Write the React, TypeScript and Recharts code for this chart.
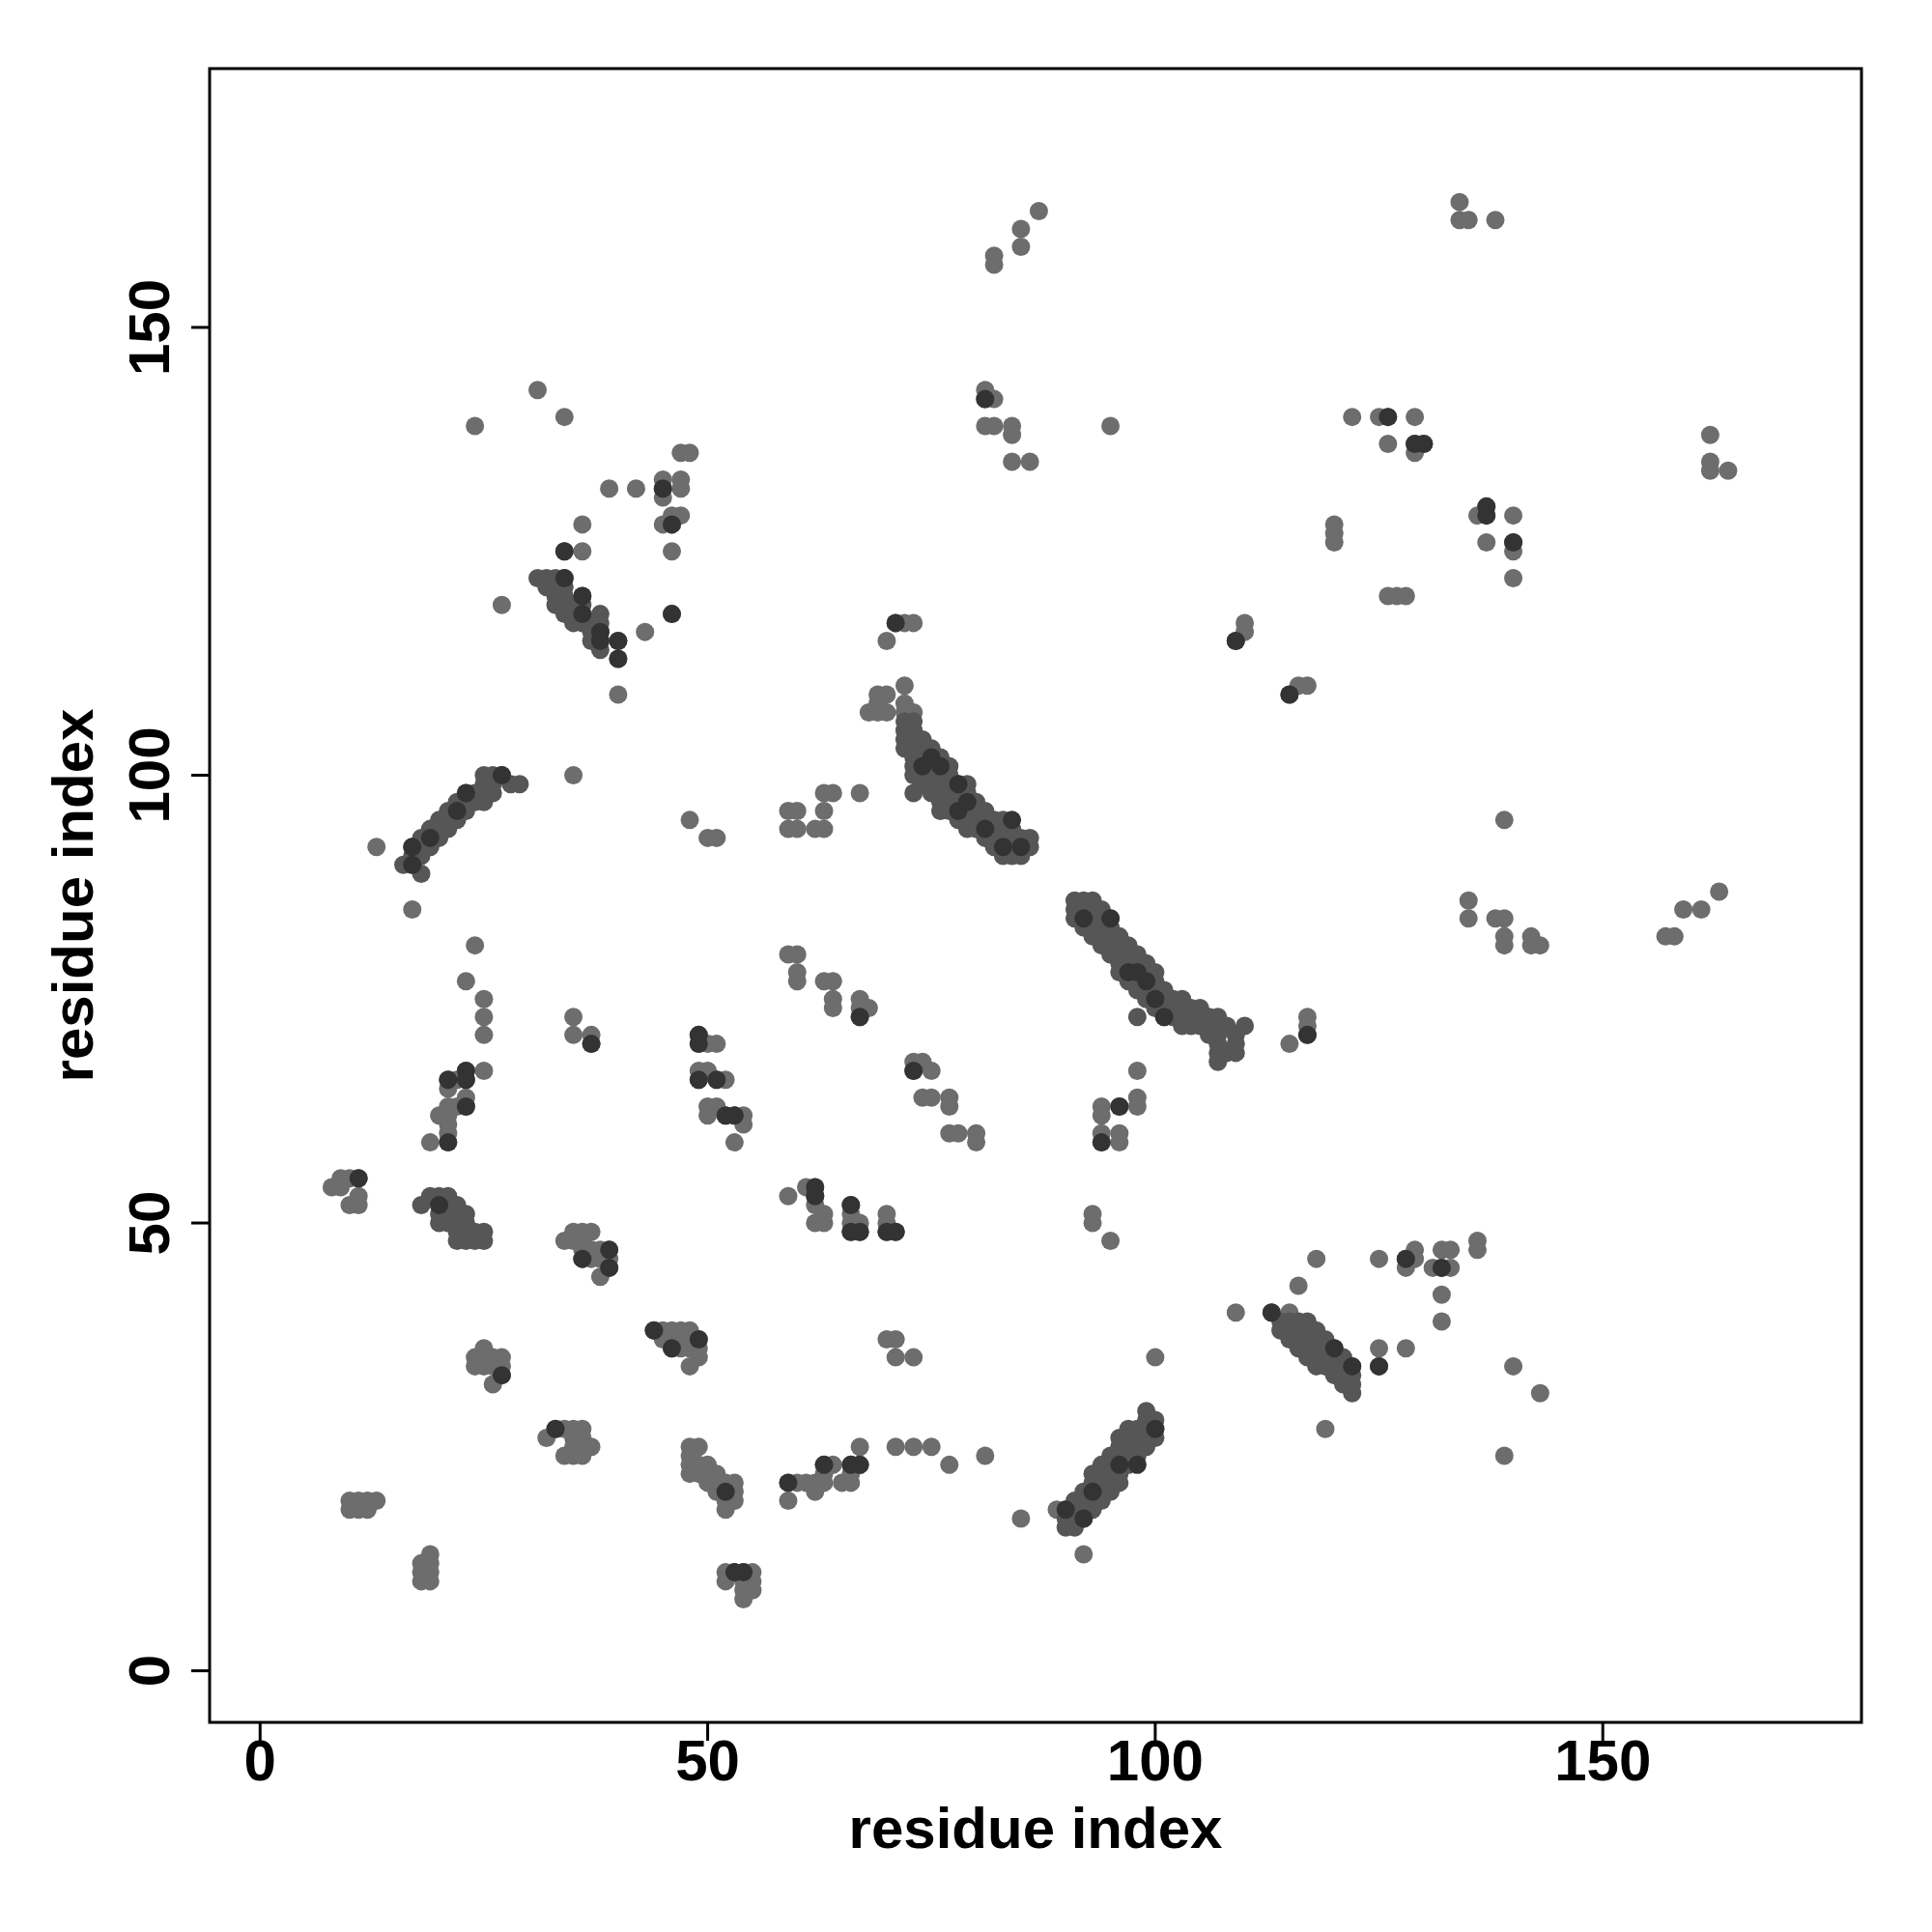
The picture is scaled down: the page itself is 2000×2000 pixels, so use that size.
import React from 'react';
import { ScatterChart, Scatter, XAxis, YAxis, ReferenceArea } from 'recharts';

type Pair = [number, number];
type Row = [number, number[]]; // [y, list of x]

const AXIS_TICKS = [0, 50, 100, 150];
const X_DOMAIN: [number, number] = [-5.64, 178.9];
const Y_DOMAIN: [number, number] = [-5.76, 178.9];
const AXIS_TITLE = 'residue index';

// scattered contacts, upper left
const upperLeft: Pair[] = [
  [31, 143], [34, 140], [24, 139], [47, 136], [48, 136], [39, 132], [42, 132], [45, 133], [47, 133],
  [45, 132], [47, 132], [45, 131], [46, 129], [47, 129], [45, 128], [46, 128], [36, 128], [34, 125],
  [36, 125], [46, 125], [46, 118], [43, 116], [27, 119], [40, 115], [40, 113], [40, 109],
];

const strandA: Row[] = [
  [122, [31, 32, 33, 34]], [121, [32, 33, 34]], [120, [33, 34, 36]], [119, [33, 34, 35, 36]],
  [118, [34, 35, 36, 38]], [117, [35, 36, 37, 38]], [116, [37, 38]], [115, [37, 38]], [114, [38]],
];

const helixB: Row[] = [
  [100, [25, 26, 27]], [99, [25, 26, 28, 29]], [98, [23, 24, 25, 26]], [97, [22, 23, 24, 25]],
  [96, [21, 22, 23]], [95, [20, 21, 22]], [94, [19, 20, 21]], [93, [18, 19, 20]], [92, [17, 18, 19]],
  [91, [17, 18]], [90, [16, 17]], [89, [18]],
];

const leftLone: Pair[] = [[13, 92], [17, 85], [35, 100], [48, 95], [50, 93], [51, 93]];

const centerUpper: Pair[] = [
  [71, 117], [72, 117], [73, 117], [70, 115], [72, 110], [69, 109], [70, 109], [68, 107], [69, 107],
  [70, 107], [72, 107], [73, 107], [69, 108], [72, 108], [63, 98], [64, 98], [67, 98], [59, 96],
  [60, 96], [63, 96], [59, 94], [60, 94], [62, 94], [63, 94], [110, 117], [110, 116], [109, 115],
  [115, 109], [116, 110], [117, 110],
];

const bandC: Row[] = [
  [106, [72, 73]], [105, [72, 73]], [104, [72, 73, 74]], [103, [72, 73, 74, 75]],
  [102, [73, 74, 75, 76]], [101, [73, 74, 75, 76, 77]], [100, [73, 74, 75, 76, 77]],
  [99, [74, 75, 76, 77, 78, 79]], [98, [73, 75, 76, 77, 78, 79]], [97, [76, 77, 78, 79, 80]],
  [96, [76, 77, 78, 79, 80, 81]], [95, [78, 79, 80, 81, 82, 83]], [94, [79, 80, 81, 82, 83, 84]],
  [93, [81, 82, 83, 84, 85, 86]], [92, [82, 83, 84, 85, 86]], [91, [83, 84, 85]],
];

const bandD: Row[] = [
  [86, [91, 92, 93]], [85, [91, 92, 93, 94]], [84, [91, 92, 93, 94, 95]], [83, [92, 93, 94, 95]],
  [82, [93, 94, 95, 96]], [81, [94, 95, 96, 97]], [80, [95, 96, 97, 98]], [79, [96, 97, 98, 99]],
  [78, [96, 97, 98, 99, 100]], [77, [97, 98, 99, 100]], [76, [98, 99, 100, 101]],
  [75, [99, 100, 101, 102, 103]], [74, [100, 101, 102, 103, 104, 105]],
  [73, [98, 101, 102, 103, 104, 105, 106, 107]], [72, [103, 104, 105, 106, 108, 110]],
  [71, [106, 107, 109]], [70, [107, 109]], [69, [107, 108, 109]], [68, [107]],
];

const upperRight: Pair[] = [
  [87, 163], [85, 161], [85, 159], [82, 158], [82, 157], [81, 143], [81, 142], [82, 142], [81, 139],
  [82, 139], [84, 139], [84, 138], [84, 135], [86, 135], [95, 139], [134, 164], [134, 162], [135, 162],
  [138, 162], [122, 140], [125, 140], [126, 140], [129, 140], [126, 137], [129, 137], [130, 137],
  [129, 136], [162, 138], [162, 135], [162, 134], [164, 134], [136, 129], [137, 130], [137, 129],
  [140, 129], [120, 128], [120, 127], [120, 126], [137, 126], [140, 126], [140, 125], [140, 122],
  [126, 120], [127, 120], [128, 120],
];

const rightMiddle: Pair[] = [
  [139, 95], [135, 86], [135, 84], [138, 84], [139, 84], [139, 82], [142, 82], [139, 81], [142, 81],
  [143, 81], [163, 87], [159, 85], [161, 85], [157, 82], [158, 82],
];

const leftMiddle: Pair[] = [
  [24, 81], [23, 77], [25, 75], [25, 73], [25, 71], [35, 73], [35, 71], [37, 71], [37, 70], [49, 71],
  [49, 70], [50, 70], [51, 70], [49, 67], [50, 67], [49, 66], [51, 66], [52, 66], [50, 63], [51, 63],
  [52, 62], [53, 62], [54, 62], [54, 61], [50, 62], [53, 59], [23, 67], [25, 67], [21, 66], [22, 66],
  [23, 66], [21, 65], [23, 64], [21, 63], [22, 63], [23, 63], [20, 62], [21, 62], [21, 61], [21, 60],
  [21, 59], [19, 59],
];

const leftLower: Pair[] = [
  [8, 54], [9, 55], [10, 55], [11, 55], [9, 54], [11, 53], [10, 52], [11, 52],
  [34, 48], [35, 49], [36, 49], [37, 49], [35, 48], [36, 48], [36, 47], [37, 47], [36, 46], [37, 46],
  [38, 47], [39, 47], [38, 46], [39, 46], [39, 45], [38, 44],
];

const clusterE: Row[] = [
  [53, [19, 20, 21]], [52, [18, 20, 21, 22]], [51, [20, 22, 23]], [50, [20, 21, 22, 23]],
  [49, [22, 23, 24, 25]], [48, [22, 23, 24, 25]],
];

const centerMiddle: Pair[] = [
  [59, 80], [60, 80], [60, 78], [60, 77], [63, 77], [64, 77], [64, 75], [64, 74], [67, 75], [67, 74],
  [67, 73], [68, 74], [73, 68], [74, 68], [73, 67], [75, 67], [74, 64], [75, 64], [77, 64], [77, 63],
  [77, 60], [78, 60], [80, 60], [80, 59], [94, 63], [96, 63], [94, 62], [98, 67], [98, 64], [98, 63],
  [94, 60], [96, 60], [94, 59], [96, 59], [117, 73], [117, 72], [117, 71], [115, 70],
];

const centerLower: Pair[] = [
  [59, 53], [61, 54], [62, 54], [62, 53], [62, 52], [63, 51], [62, 50], [63, 50], [66, 52], [66, 51],
  [66, 50], [67, 50], [66, 49], [67, 49], [70, 51], [70, 50], [70, 49], [71, 49], [93, 51], [93, 50],
  [95, 48], [118, 46], [116, 43], [109, 40], [113, 40], [115, 40],
];

const rightLower: Pair[] = [
  [125, 46], [128, 46], [128, 45], [129, 47], [129, 46], [131, 45], [132, 45], [133, 45], [132, 47],
  [133, 47], [136, 48], [136, 47], [132, 42], [132, 39], [125, 36], [128, 36], [125, 34], [140, 34],
  [143, 31], [139, 24], [119, 27],
];

const bandF: Row[] = [
  [39, [114, 115, 116, 117]], [38, [114, 115, 116, 117, 118]], [37, [115, 116, 117, 118, 119]],
  [36, [116, 117, 118, 119, 120]], [35, [117, 118, 119, 120, 121]], [34, [118, 119, 120, 121, 122]],
  [33, [120, 121, 122]], [32, [121, 122]], [31, [122]],
];

const bottomLeft: Pair[] = [
  [25, 36], [24, 35], [25, 35], [26, 35], [27, 35], [24, 34], [25, 34], [26, 34], [27, 34], [27, 33],
  [26, 32], [44, 38], [45, 38], [46, 38], [47, 38], [48, 38], [45, 37], [46, 37], [47, 37], [48, 37],
  [49, 37], [46, 36], [47, 36], [48, 36], [49, 36], [49, 35], [48, 34],
  [33, 27], [34, 27], [35, 27], [36, 27], [32, 26], [35, 26], [36, 26], [37, 25], [35, 25], [34, 24],
  [35, 24], [36, 24], [10, 19], [11, 19], [12, 19], [13, 19], [10, 18], [11, 18], [12, 18],
  [19, 13], [18, 12], [19, 12], [18, 11], [19, 11], [18, 10], [19, 10],
  [48, 25], [49, 25], [48, 24], [48, 23], [49, 23], [50, 23], [48, 22], [49, 22], [50, 22], [51, 22],
  [50, 21], [51, 21], [52, 21], [51, 20], [52, 20], [53, 21], [53, 20], [52, 19], [53, 19], [52, 18],
  [52, 11], [53, 11], [54, 11], [55, 11], [52, 10], [54, 10], [55, 10], [54, 9], [55, 9], [54, 8],
];

const bottomCenter: Pair[] = [
  [70, 37], [71, 37], [71, 35], [73, 35], [100, 35], [67, 25], [71, 25], [73, 25], [75, 25], [77, 23],
  [81, 24], [85, 17], [92, 13], [89, 18], [59, 21], [60, 21], [61, 21], [62, 21], [63, 21], [63, 23],
  [64, 23], [63, 22], [66, 23], [67, 23], [65, 21], [66, 21], [66, 22], [62, 20], [59, 19],
];

const helixG: Row[] = [
  [29, [99]], [28, [99, 100]], [27, [97, 98, 100]], [26, [96, 97, 98, 99, 100]], [25, [96, 97, 98, 99]],
  [24, [95, 96, 97, 98]], [23, [94, 95, 96, 97]], [22, [93, 94, 95, 96]], [21, [93, 94, 95, 96]],
  [20, [92, 93, 94, 95]], [19, [91, 92, 93, 94]], [18, [90, 91, 92, 93]], [17, [90, 91, 92]],
  [16, [90, 91]],
];

// contacts drawn in a darker grey (higher score)
const strongContacts: Pair[] = [
  [45, 132], [46, 128], [81, 142], [126, 140], [129, 137], [130, 137], [137, 130], [137, 129], [140, 126],
  [34, 125], [34, 122], [36, 120], [36, 118], [38, 116], [38, 115], [40, 115], [40, 113], [46, 118],
  [27, 100], [22, 96], [19, 93], [17, 92], [17, 90], [23, 98],
  [71, 117], [109, 115], [115, 109], [74, 101], [75, 102], [76, 101], [78, 99], [78, 96], [79, 97],
  [81, 94], [84, 95], [85, 92], [83, 92], [95, 84], [92, 84],
  [49, 71], [49, 70], [49, 66], [51, 66], [52, 62], [53, 62], [23, 67], [23, 66], [21, 66], [23, 63],
  [21, 59], [20, 52], [36, 46], [39, 47], [39, 45], [37, 70], [44, 38], [11, 55],
  [73, 67], [67, 73], [94, 59], [96, 63], [98, 78], [101, 73], [117, 71], [113, 40], [62, 54], [62, 53],
  [66, 49], [67, 49], [70, 49], [71, 49], [66, 52], [97, 78], [100, 75], [99, 77],
  [128, 46], [132, 45], [27, 33], [33, 27], [46, 36], [49, 37], [52, 20], [53, 11], [54, 11],
  [59, 21], [63, 23], [66, 23], [67, 23], [100, 27], [96, 23], [93, 20], [92, 17], [90, 18], [98, 23],
  [120, 36], [122, 34], [125, 34],
];

const fromPairs = (list: Pair[]) => list.map(([x, y]) => ({ x, y }));
const fromRows = (rows: Row[]) => rows.flatMap(([y, xs]) => xs.map((x) => ({ x, y })));

// isolated contacts and small clusters
const sparse = [
  ...fromPairs(upperLeft), ...fromPairs(leftLone), ...fromPairs(centerUpper), ...fromPairs(upperRight),
  ...fromPairs(rightMiddle), ...fromPairs(leftMiddle), ...fromPairs(leftLower), ...fromPairs(centerMiddle),
  ...fromPairs(centerLower), ...fromPairs(rightLower), ...fromPairs(bottomLeft), ...fromPairs(bottomCenter),
];
// secondary-structure bands
const bands = [
  ...fromRows(strandA), ...fromRows(helixB), ...fromRows(bandC), ...fromRows(bandD),
  ...fromRows(clusterE), ...fromRows(bandF), ...fromRows(helixG),
];
const strong = fromPairs(strongContacts);

const FONT = '"Liberation Sans", Arial, Helvetica, sans-serif';
const FONT_SIZE = 60;

const XTick = (props: any) => {
  const { x, y, payload } = props;
  return (
    <text x={x} y={y + 41} textAnchor="middle" fontFamily={FONT} fontWeight="bold" fontSize={FONT_SIZE} fill="#000">
      {payload.value}
    </text>
  );
};

const YTick = (props: any) => {
  const { x, y, payload } = props;
  const bx = x - 23;
  return (
    <text x={bx} y={y} transform={`rotate(-90, ${bx}, ${y})`} textAnchor="middle" fontFamily={FONT}
      fontWeight="bold" fontSize={FONT_SIZE} fill="#000">
      {payload.value}
    </text>
  );
};

const XTitle = (props: any) => {
  const { viewBox } = props;
  return (
    <text x={viewBox.x + viewBox.width / 2} y={1913} textAnchor="middle" fontFamily={FONT}
      fontWeight="bold" fontSize={FONT_SIZE} fill="#000">
      {AXIS_TITLE}
    </text>
  );
};

const YTitle = (props: any) => {
  const { viewBox } = props;
  const cy = viewBox.y + viewBox.height / 2;
  const bx = 96;
  return (
    <text x={bx} y={cy} transform={`rotate(-90, ${bx}, ${cy})`} textAnchor="middle" fontFamily={FONT}
      fontWeight="bold" fontSize={FONT_SIZE} fill="#000">
      {AXIS_TITLE}
    </text>
  );
};

const makeDot = (fill: string) => (props: any) => (
  <circle cx={props.cx} cy={props.cy} r={9.5} fill={fill} />
);
const SparseDot = makeDot('#6d6d6d');
const BandDot = makeDot('#565656');
const StrongDot = makeDot('#333333');

export default function App() {
  return (
    <div style={{ position: 'absolute', left: 0, top: 0, width: 2000, height: 2000, background: '#fff' }}>
      <ScatterChart width={2000} height={2000} margin={{ top: 71, right: 73, bottom: 67, left: 67 }}>
        <XAxis
          type="number"
          dataKey="x"
          domain={X_DOMAIN}
          ticks={AXIS_TICKS}
          allowDataOverflow
          height={150}
          axisLine={false}
          tickLine={{ stroke: '#000', strokeWidth: 3 }}
          tickSize={19}
          tickMargin={0}
          tick={<XTick />}
          label={<XTitle />}
        />
        <YAxis
          type="number"
          dataKey="y"
          domain={Y_DOMAIN}
          ticks={AXIS_TICKS}
          allowDataOverflow
          width={150}
          axisLine={false}
          tickLine={{ stroke: '#000', strokeWidth: 3 }}
          tickSize={19}
          tickMargin={0}
          tick={<YTick />}
          label={<YTitle />}
        />
        <Scatter data={sparse} shape={<SparseDot />} isAnimationActive={false} />
        <Scatter data={bands} shape={<BandDot />} isAnimationActive={false} />
        <Scatter data={strong} shape={<StrongDot />} isAnimationActive={false} />
        <ReferenceArea
          x1={X_DOMAIN[0]}
          x2={X_DOMAIN[1]}
          y1={Y_DOMAIN[0]}
          y2={Y_DOMAIN[1]}
          fill="none"
          fillOpacity={0}
          stroke="#000"
          strokeWidth={3}
          ifOverflow="visible"
        />
      </ScatterChart>
    </div>
  );
}
